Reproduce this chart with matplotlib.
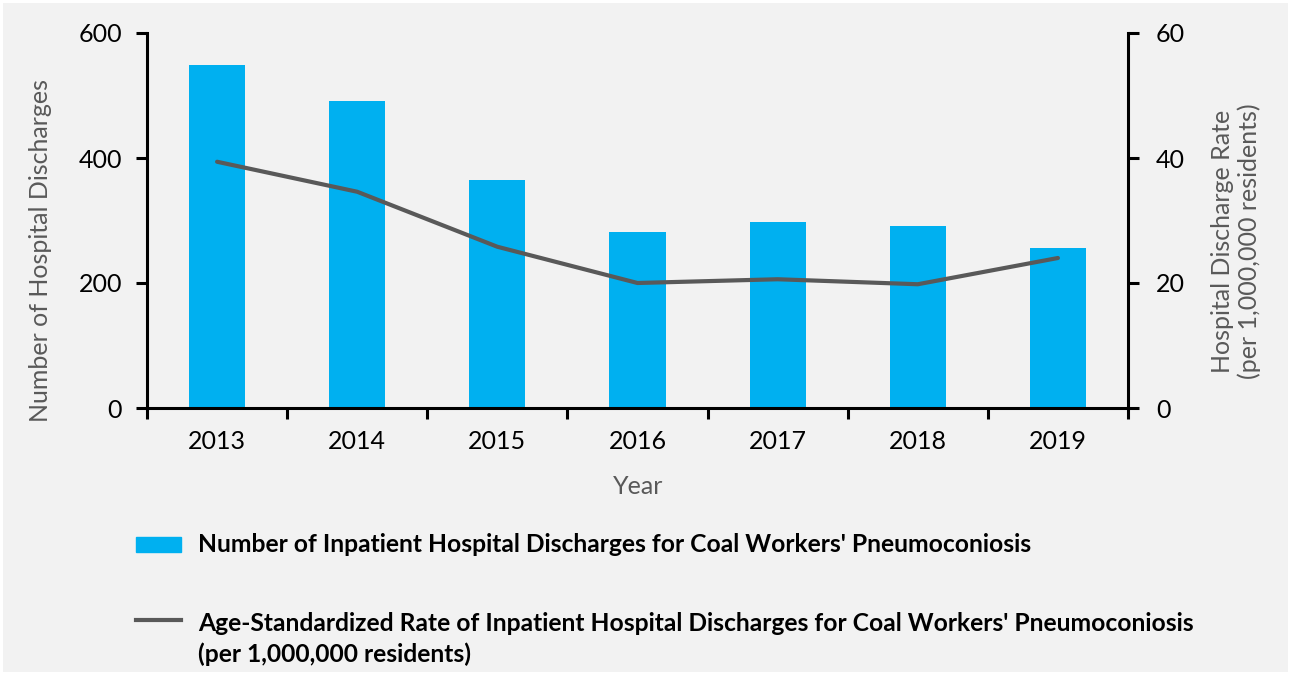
import matplotlib.pyplot as plt
from matplotlib.patches import Rectangle
from matplotlib.lines import Line2D

years = ["2013", "2014", "2015", "2016", "2017", "2018", "2019"]
discharges = [549, 491, 365, 281, 297, 292, 256]
rate = [39.4, 34.6, 25.8, 20.0, 20.6, 19.8, 24.0]

bar_color = "#00B0F0"
line_color = "#595959"
bg = "#F2F2F2"
fs = 18

plt.rcParams["font.family"] = ["Lato", "DejaVu Sans"]

W, H = 1291, 675
fig = plt.figure(figsize=(W / 100, H / 100), dpi=100, facecolor=bg)
fig.patch.set_edgecolor("white")
fig.patch.set_linewidth(3)
ax = fig.add_axes([147 / W, 1 - 408 / H, (1128 - 147) / W, 375 / H])
ax.set_facecolor(bg)

x = range(len(years))
ax.bar(x, discharges, width=0.4, color=bar_color, zorder=2)
ax.set_xlim(-0.5, len(years) - 0.5)
ax.set_ylim(0, 600)
ax.set_yticks([0, 200, 400, 600])
ax.set_xticks(x)
ax.set_xticklabels(years)
ax.set_xticks([i - 0.5 for i in range(len(years) + 1)], minor=True)
ax.tick_params(axis="x", which="major", length=0, pad=16, labelsize=fs)
ax.tick_params(axis="x", which="minor", length=8, width=2.2, direction="out")
ax.tick_params(axis="y", length=8, width=2.2, direction="out", labelsize=fs, pad=10)

for side in ["top", "right"]:
    ax.spines[side].set_visible(False)
for side in ["left", "bottom"]:
    ax.spines[side].set_linewidth(2.2)

ax2 = ax.twinx()
ax2.plot(x, rate, color=line_color, linewidth=3, solid_capstyle="round", zorder=3)
ax2.set_ylim(0, 60)
ax2.set_yticks([0, 20, 40, 60])
ax2.tick_params(axis="y", length=8, width=2.2, direction="out", labelsize=fs, pad=12)
for side in ["top", "left", "bottom"]:
    ax2.spines[side].set_visible(False)
ax2.spines["right"].set_linewidth(2.2)

# axis titles
fig.text(41 / W, 1 - 251 / H, "Number of Hospital Discharges", color=line_color,
         fontsize=fs, rotation=90, ha="center", va="center")
fig.text(1236 / W, 1 - 241 / H, "Hospital Discharge Rate\n(per 1,000,000 residents)",
         color=line_color, fontsize=fs, rotation=90, ha="center", va="center",
         multialignment="center", linespacing=1.2)
fig.text(638 / W, 1 - 487 / H, "Year", color=line_color, fontsize=fs,
         ha="center", va="center")

# legend
lfs = 17.7
fig.patches.append(Rectangle((136 / W, 1 - 552 / H), 45 / W, 15 / H,
                             transform=fig.transFigure, color=bar_color))
fig.lines.append(Line2D([136 / W, 181 / W], [1 - 620 / H, 1 - 620 / H],
                        transform=fig.transFigure, color=line_color, linewidth=3))
fig.text(198 / W, 1 - 545 / H,
         "Number of Inpatient Hospital Discharges for Coal Workers' Pneumoconiosis",
         fontsize=lfs, fontweight="bold", va="center", ha="left")
fig.text(198 / W, 1 - 639 / H,
         "Age-Standardized Rate of Inpatient Hospital Discharges for Coal Workers' Pneumoconiosis\n(per 1,000,000 residents)",
         fontsize=lfs, fontweight="bold", va="center", ha="left", linespacing=1.38)

fig.savefig("out.png", dpi=100, facecolor=fig.get_facecolor(), edgecolor=fig.patch.get_edgecolor())
